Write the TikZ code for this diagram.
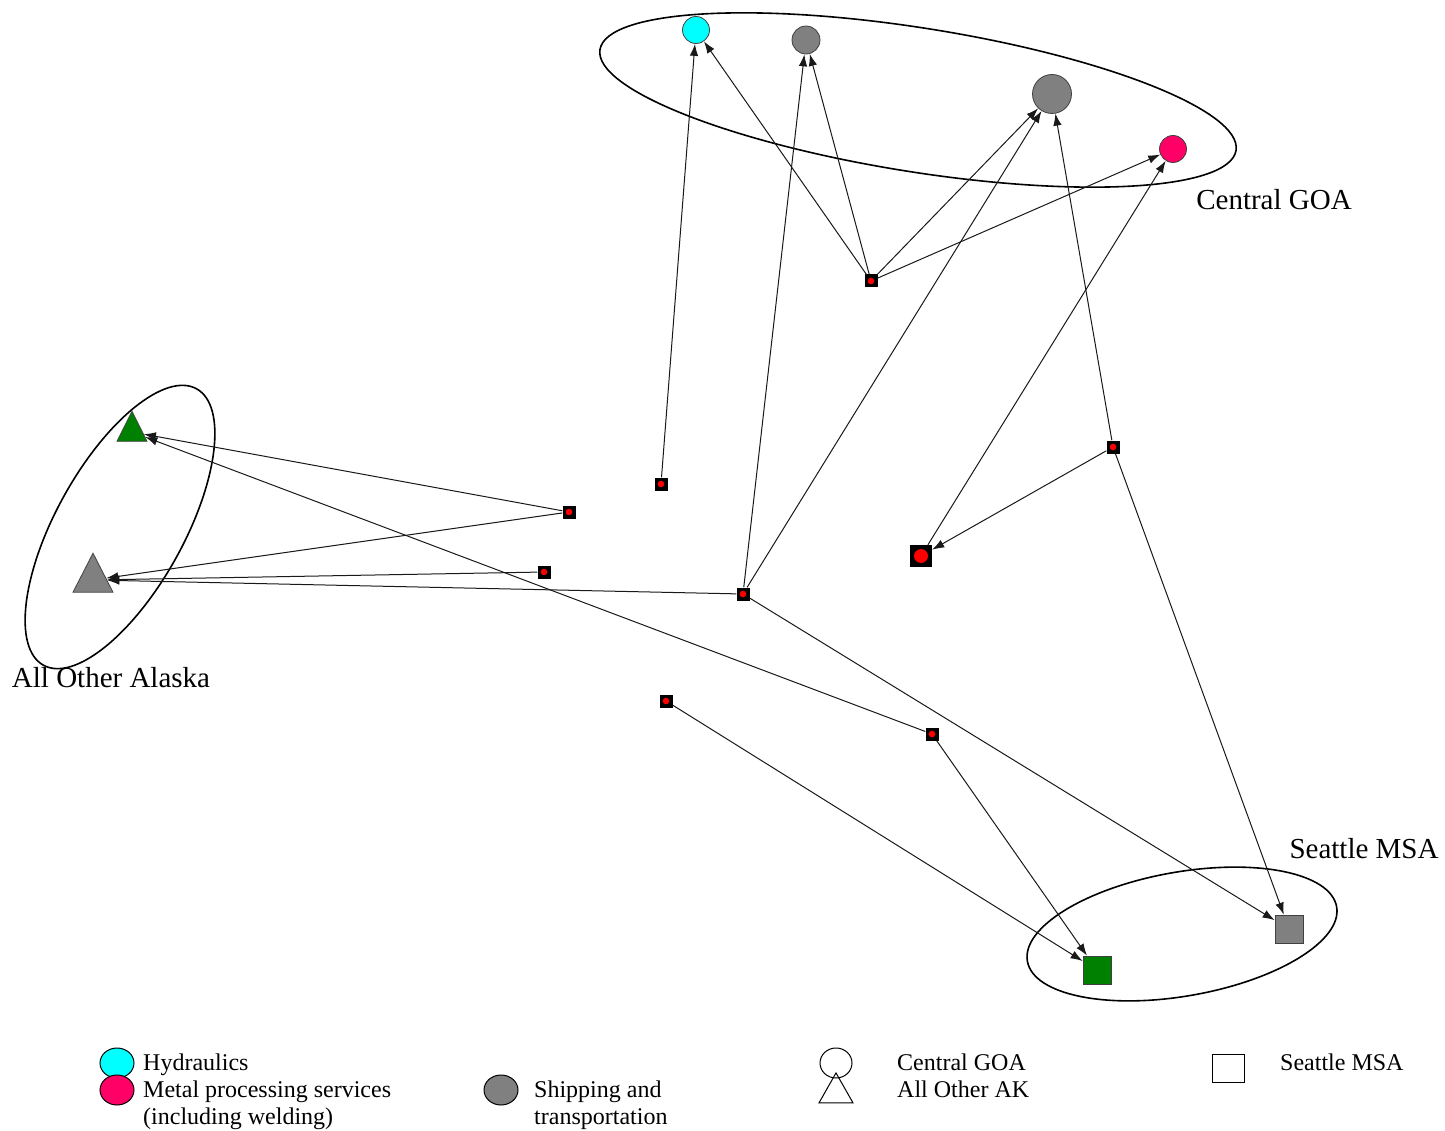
\documentclass[tikz,border=0pt]{standalone}
\usepackage{fontspec}
\setmainfont{Liberation Serif}
\usetikzlibrary{shapes.geometric,arrows.meta}

\definecolor{hydcyan}{HTML}{00FFFF}
\definecolor{metalpink}{HTML}{FF0066}
\definecolor{shipgray}{HTML}{808080}
\definecolor{akgreen}{HTML}{008000}

\begin{document}
\begin{tikzpicture}[x=1pt,y=-1pt,
    >={Latex[length=12pt,width=8.5pt]},
    link/.style={->, line width=1pt, black!90},
    firm/.style={circle, draw=black!75, line width=0.8pt, inner sep=0pt},
    tri/.style={isosceles triangle, isosceles triangle stretches, shape border rotate=90,
        draw=black!75, line width=0.8pt, inner sep=0pt},
    sq/.style={rectangle, draw=black!75, line width=0.8pt, minimum size=28pt, inner sep=0pt},
    hub/.style={rectangle, fill=black, minimum size=13pt, inner sep=0pt,
        path picture={\fill[red] (path picture bounding box.center) circle[radius=3.3pt];}},
    bighub/.style={hub, minimum size=22pt,
        path picture={\fill[red] (path picture bounding box.center) circle[radius=7pt];}},
    region/.style={line width=1.6pt},
    grouplabel/.style={font=\fontsize{29}{33}\selectfont, inner sep=0pt},
    legtext/.style={font=\fontsize{24}{27}\selectfont, inner sep=0pt, anchor=base west}]
\useasboundingbox (0,0) rectangle (1445,1131);

% Gruppen (Ellipsen):
\draw[region, rotate around={-9:(918,100)}] (918,100) ellipse [x radius=322pt, y radius=72pt]; % Central GOA
\draw[region, rotate around={61:(120,527)}] (120,527) ellipse [x radius=158pt, y radius=64pt]; % All Other Alaska
\draw[region, rotate around={10:(1182,934)}] (1182,934) ellipse [x radius=157pt, y radius=62pt]; % Seattle MSA
\node[grouplabel] (goaLabel) at (1274,200) {Central GOA};
\node[grouplabel] (akLabel) at (111,678) {All Other Alaska};
\node[grouplabel] (seaLabel) at (1364,849) {Seattle MSA};

% Firmen Central GOA:
\node[firm, fill=hydcyan, minimum size=27pt] (hyd) at (696,30) {};
\node[firm, fill=shipgray, minimum size=28pt] (shipA) at (806,40) {};
\node[firm, fill=shipgray, minimum size=39pt] (shipB) at (1052,94) {};
\node[firm, fill=metalpink, minimum size=27pt] (metal) at (1173,149) {};
% Firmen All Other AK:
\node[tri, fill=akgreen, minimum width=30pt, minimum height=30pt] (akGreen) at (132,432) {};
\node[tri, fill=shipgray, minimum width=40pt, minimum height=39pt] (akGray) at (93,580) {};
% Firmen Seattle MSA:
\node[sq, fill=akgreen] (seaGreen) at (1097,970) {};
\node[sq, fill=shipgray] (seaGray) at (1289,929) {};

% Vermittler:
\node[hub] (h1) at (871,281) {};
\node[hub] (h2) at (661,484) {};
\node[hub] (h3) at (569,512) {};
\node[hub] (h4) at (544,572) {};
\node[hub] (h5) at (743,594) {};
\node[hub] (h6) at (1113,447) {};
\node[hub] (h7) at (666,701) {};
\node[hub] (h8) at (932,734) {};
\node[bighub] (h9) at (921,556) {};

% Verbindungen:
\draw[link] (h2) -- (hyd);
\draw[link] (h1) -- (hyd);
\draw[link] (h1) -- (shipA);
\draw[link] (h1) -- (shipB);
\draw[link] (h1) -- (metal);
\draw[link] (h5) -- (shipA);
\draw[link] (h5) -- (shipB);
\draw[link] (h5) -- (akGray);
\draw[link] (h5) -- (seaGray);
\draw[link] (h3) -- (akGreen);
\draw[link] (h3) -- (akGray);
\draw[link] (h4) -- (akGray);
\draw[link] (h6) -- (shipB);
\draw[link] (h6) -- (h9);
\draw[link] (h6) -- (seaGray);
\draw[link] (h9) -- (metal);
\draw[link] (h8) -- (akGreen);
\draw[link] (h8) -- (seaGreen);
\draw[link] (h7) -- (seaGreen);

% Legende:
\node[ellipse, draw, line width=1pt, fill=hydcyan, minimum width=34pt, minimum height=30pt] (legHyd) at (117,1063) {};
\node[ellipse, draw, line width=1pt, fill=metalpink, minimum width=34pt, minimum height=30pt] (legMetal) at (117,1090) {};
\node[legtext] (txtHyd) at (143,1070) {Hydraulics};
\node[legtext] (txtMetal) at (143,1097) {Metal processing services};
\node[legtext] (txtMetalB) at (143,1124) {(including welding)};
\node[ellipse, draw, line width=1pt, fill=shipgray, minimum width=34pt, minimum height=30pt] (legShip) at (501,1090) {};
\node[legtext] (txtShip) at (534,1097) {Shipping and};
\node[legtext] (txtShipB) at (534,1124) {transportation};
\node[ellipse, draw, line width=1pt, fill=white, minimum width=32pt, minimum height=30pt] (legGoa) at (836,1063) {};
\node[isosceles triangle, isosceles triangle stretches, shape border rotate=90, draw, line width=1pt,
    inner sep=0pt, minimum width=34pt, minimum height=30pt] (legAk) at (836,1093) {};
\node[legtext] (txtGoa) at (897,1070) {Central GOA};
\node[legtext] (txtAk) at (897,1097) {All Other AK};
\node[rectangle, draw, line width=1pt, minimum width=32pt, minimum height=28pt] (legSea) at (1228,1068) {};
\node[legtext] (txtSea) at (1280,1070) {Seattle MSA};
\end{tikzpicture}
\end{document}
